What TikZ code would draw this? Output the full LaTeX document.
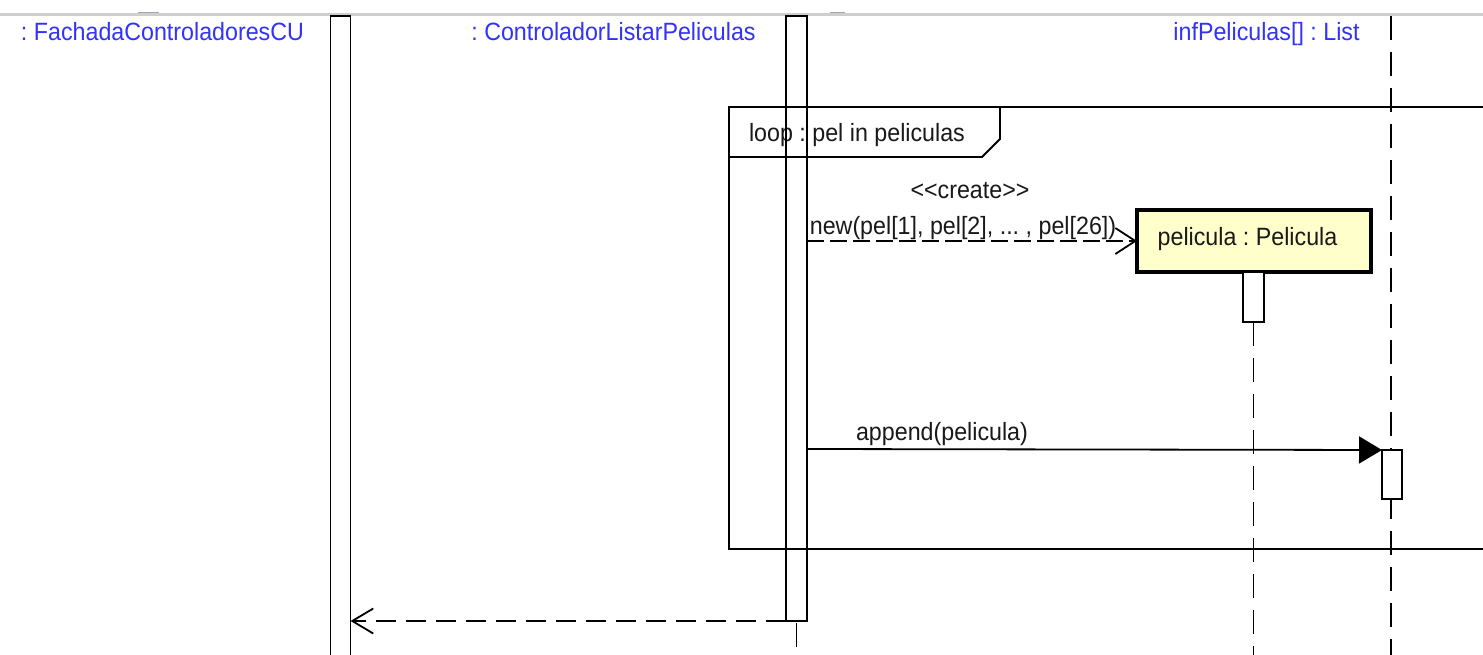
\documentclass[tikz,border=0pt]{standalone}
\usepackage{fontspec}
\setmainfont{Liberation Sans}[FakeStretch=0.93]
\usetikzlibrary{arrows.meta}
\definecolor{hblue}{RGB}{50,50,250}
\definecolor{noteyellow}{RGB}{255,255,204}
\definecolor{txt}{RGB}{25,25,25}
\definecolor{topgray}{RGB}{205,205,210}
\definecolor{tabgray}{RGB}{165,165,170}
\frenchspacing
\begin{document}
\begin{tikzpicture}[x=1pt,y=-1pt,
  lbl/.style={font=\fontsize{25}{29}\selectfont, inner sep=0pt, outer sep=0pt, anchor=base, text=txt},
  head/.style={lbl, text=hblue},
  ln/.style={line width=1.8pt, draw=black},
  actbox/.style={ln, rectangle, inner sep=0pt, outer sep=0pt, minimum width=20pt},
  lifeline/.style={ln, dash pattern=on 24pt off 12pt},
  createmsg/.style={ln, dash pattern=on 17pt off 6pt, -{Straight Barb[length=20pt,width=26pt,line width=1.8pt]}},
  syncmsg/.style={ln, -{Triangle[length=23pt,width=27pt]}},
  replymsg/.style={ln, dash pattern=on 20pt off 10pt, -{Straight Barb[length=21pt,width=25pt,line width=1.8pt]}},
  objbox/.style={rectangle, draw=black, line width=3.4pt, fill=noteyellow, inner sep=0pt, outer sep=0pt,
                 minimum width=234pt, minimum height=62pt}
]
\useasboundingbox (0,0) rectangle (1483,655);
\clip (0,0) rectangle (1483,655);
\fill[white] (0,0) rectangle (1483,655);

% top border of the view
\draw[topgray, line width=3pt] (0,14.5) -- (1483,14.5);
\fill[tabgray] (138,12) rectangle (159,13.5);
\fill[tabgray] (830,12) rectangle (845,13.5);

% headers
\node[head] (hF) at (162.5,41) {: FachadaControladoresCU};
\node[head] (hC) at (613.5,41) {: ControladorListarPeliculas};
\node[head] (hI) at (1266.5,41) {infPeliculas[] : List};

% loop combined fragment
\draw[ln] (729,107) rectangle (1495,549);
\draw[ln, fill=white] (729,107) -- (1000,107) -- (1000,139) -- (982,157) -- (729,157) -- cycle;
\node[lbl] (loopLbl) at (857,142) {loop : pel in peliculas};

% activations
\node[actbox, minimum height=675pt] (actF) at (340.5,353.5) {};
\node[actbox, minimum width=21pt, minimum height=605pt] (actC) at (796.5,318.5) {};

% infPeliculas lifeline and activation
\coordinate (iTop) at (1391,16);
\coordinate (iBot) at (1391,670);
\node[actbox, fill=white, minimum height=49pt] (actI) at (1392,474.5) {};
\draw[lifeline] (iTop) -- (actI.north -| iTop);
\draw[lifeline, dash phase=4pt] (actI.south -| iTop) -- (iBot);

% created object
\node[objbox] (pel) at (1254,241) {};
\node[lbl] (pelTxt) at (1247.5,245) {pelicula : Pelicula};
\node[actbox, fill=white, minimum width=21pt, minimum height=50pt] (actP) at (1253.5,297) {};
\coordinate (pBot) at (1253.5,670);
\draw[lifeline] (actP.south) -- (pBot);

% controller lifeline below activation
\coordinate (cBot) at (796.5,670);
\draw[lifeline, dash phase=-2pt] (actC.south) -- (cBot);

% message 1: create
\coordinate (m1s) at (807,241);
\draw[createmsg] (m1s) -- (pel.west |- m1s);
\node[lbl] (m1st) at (970,199) {{<}{<}create{>}{>}};
\node[lbl] (m1t) at (963,235) {new(pel[1], pel[2], ... , pel[26])};

% message 2: append
\coordinate (m2s) at (807,449);
\draw[syncmsg] (m2s) -- (actI.north west);
\node[lbl] (m2t) at (942,440) {append(pelicula)};

% reply
\draw[replymsg] (actC.south west) -- (actF.east |- actC.south west);
\end{tikzpicture}
\end{document}
